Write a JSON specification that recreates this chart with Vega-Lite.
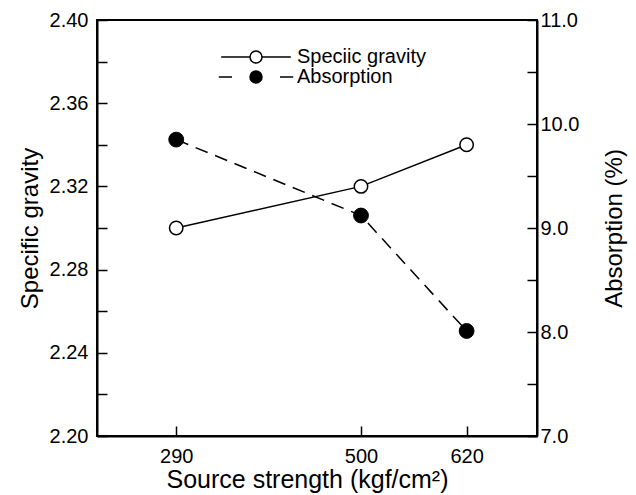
{
  "$schema": "https://vega.github.io/schema/vega-lite/v6.json",
  "width": 440,
  "height": 416,
  "autosize": {"type": "none"},
  "padding": {"left": 97, "top": 20, "right": 99, "bottom": 59},
  "background": "white",
  "config": {
    "font": "Liberation Sans",
    "view": {"stroke": "black", "strokeWidth": 2},
    "axis": {
      "domainColor": "black",
      "domainWidth": 2,
      "tickColor": "black",
      "tickWidth": 1.5,
      "labelColor": "black",
      "labelFontSize": 20,
      "labelFont": "Liberation Sans",
      "titleFont": "Liberation Sans",
      "titleFontSize": 24,
      "titleFontWeight": "normal",
      "titleColor": "black",
      "grid": false
    }
  },
  "data": {
    "values": [
      {"strength": 290, "series": "Speciic gravity", "value": 2.30},
      {"strength": 500, "series": "Speciic gravity", "value": 2.32},
      {"strength": 620, "series": "Speciic gravity", "value": 2.34},
      {"strength": 290, "series": "Absorption", "value": 9.85},
      {"strength": 500, "series": "Absorption", "value": 9.12},
      {"strength": 620, "series": "Absorption", "value": 8.01}
    ]
  },
  "encoding": {
    "x": {
      "field": "strength",
      "type": "quantitative",
      "scale": {"domain": [200, 700], "nice": false, "zero": false},
      "axis": {
        "values": [290, 500, 620],
        "tickSize": -10,
        "labelPadding": 20,
        "labelFlush": false,
        "title": "Source strength (kgf/cm²)",
        "titleFontSize": 25,
        "titleX": 210,
        "titleY": 51,
        "titleBaseline": "alphabetic",
        "titleAlign": "center",
        "titleAnchor": "middle"
      }
    }
  },
  "layer": [
    {
      "transform": [{"filter": "datum.series === 'Speciic gravity'"}],
      "encoding": {
        "y": {
          "field": "value",
          "type": "quantitative",
          "scale": {"domain": [2.2, 2.4], "nice": false, "zero": false},
          "axis": {
            "orient": "left",
            "values": [2.2, 2.22, 2.24, 2.26, 2.28, 2.3, 2.32, 2.34, 2.36, 2.38, 2.4],
            "labelExpr": "round(datum.value * 100) % 4 == 0 ? format(datum.value, '.2f') : ''",
            "tickSize": -10,
            "labelPadding": 19,
            "labelFlush": false,
            "title": "Specific gravity",
            "titleAngle": -90,
            "titleX": -67,
            "titleY": 208,
            "titleBaseline": "middle",
            "titleAlign": "center",
            "titleAnchor": "middle"
          }
        }
      },
      "layer": [
        {"mark": {"type": "line", "color": "black", "strokeWidth": 1.5}},
        {"mark": {"type": "point", "shape": "circle", "filled": true, "fill": "white", "stroke": "black", "strokeWidth": 1.5, "size": 180, "opacity": 1}}
      ]
    },
    {
      "transform": [{"filter": "datum.series === 'Absorption'"}],
      "encoding": {
        "y": {
          "field": "value",
          "type": "quantitative",
          "scale": {"domain": [7, 11], "nice": false, "zero": false},
          "axis": {
            "orient": "right",
            "values": [7, 7.5, 8, 8.5, 9, 9.5, 10, 10.5, 11],
            "labelExpr": "datum.value % 1 == 0 ? format(datum.value, '.1f') : ''",
            "tickSize": -10,
            "labelPadding": 13,
            "labelFlush": false,
            "title": "Absorption (%)",
            "titleAngle": -90,
            "titleX": 77,
            "titleY": 208,
            "titleBaseline": "middle",
            "titleAlign": "center",
            "titleAnchor": "middle"
          }
        }
      },
      "layer": [
        {"mark": {"type": "line", "color": "black", "strokeWidth": 1.5, "strokeDash": [13, 8]}},
        {"mark": {"type": "point", "shape": "circle", "filled": true, "fill": "black", "stroke": "black", "strokeWidth": 1, "size": 220, "opacity": 1}}
      ]
    },
    {
      "mark": {"type": "point", "filled": true, "opacity": 0, "stroke": "black", "strokeWidth": 1.5, "size": 144},
      "encoding": {
        "x": {"value": 0},
        "y": {"value": 0},
        "shape": {
          "field": "series",
          "type": "nominal",
          "scale": {
            "domain": ["Speciic gravity", "Absorption"],
            "range": [
              "M-5.8,0H-1M1,0H5.8M1,0A1,1,0,1,1,-1,0A1,1,0,1,1,1,0Z",
              "M-6.2,0H-4M4,0H6.2M1,0A1,1,0,1,1,-1,0A1,1,0,1,1,1,0Z"
            ]
          },
          "legend": {
            "title": null,
            "orient": "none",
            "legendX": 149,
            "legendY": 27,
            "padding": 0,
            "rowPadding": 0,
            "labelOffset": 31,
            "labelFontSize": 20,
            "labelFont": "Liberation Sans",
            "labelColor": "black",
            "symbolSize": 144,
            "symbolOpacity": 1,
            "symbolStrokeColor": "black",
            "symbolStrokeWidth": 1.5,
            "encode": {
              "symbols": {
                "update": {
                  "stroke": {"value": "black"},
                  "strokeWidth": {"value": 1.5},
                  "opacity": {"value": 1}
                }
              }
            }
          }
        },
        "fill": {
          "field": "series",
          "type": "nominal",
          "scale": {"domain": ["Speciic gravity", "Absorption"], "range": ["white", "black"]},
          "legend": {
            "title": null,
            "orient": "none",
            "legendX": 149,
            "legendY": 27,
            "padding": 0,
            "rowPadding": 0,
            "labelOffset": 31,
            "labelFontSize": 20,
            "labelFont": "Liberation Sans",
            "labelColor": "black",
            "symbolSize": 144,
            "symbolOpacity": 1,
            "symbolStrokeColor": "black",
            "symbolStrokeWidth": 1.5,
            "encode": {
              "symbols": {
                "update": {
                  "stroke": {"value": "black"},
                  "strokeWidth": {"value": 1.5},
                  "opacity": {"value": 1}
                }
              }
            }
          }
        }
      }
    }
  ],
  "resolve": {"scale": {"y": "independent"}}
}
